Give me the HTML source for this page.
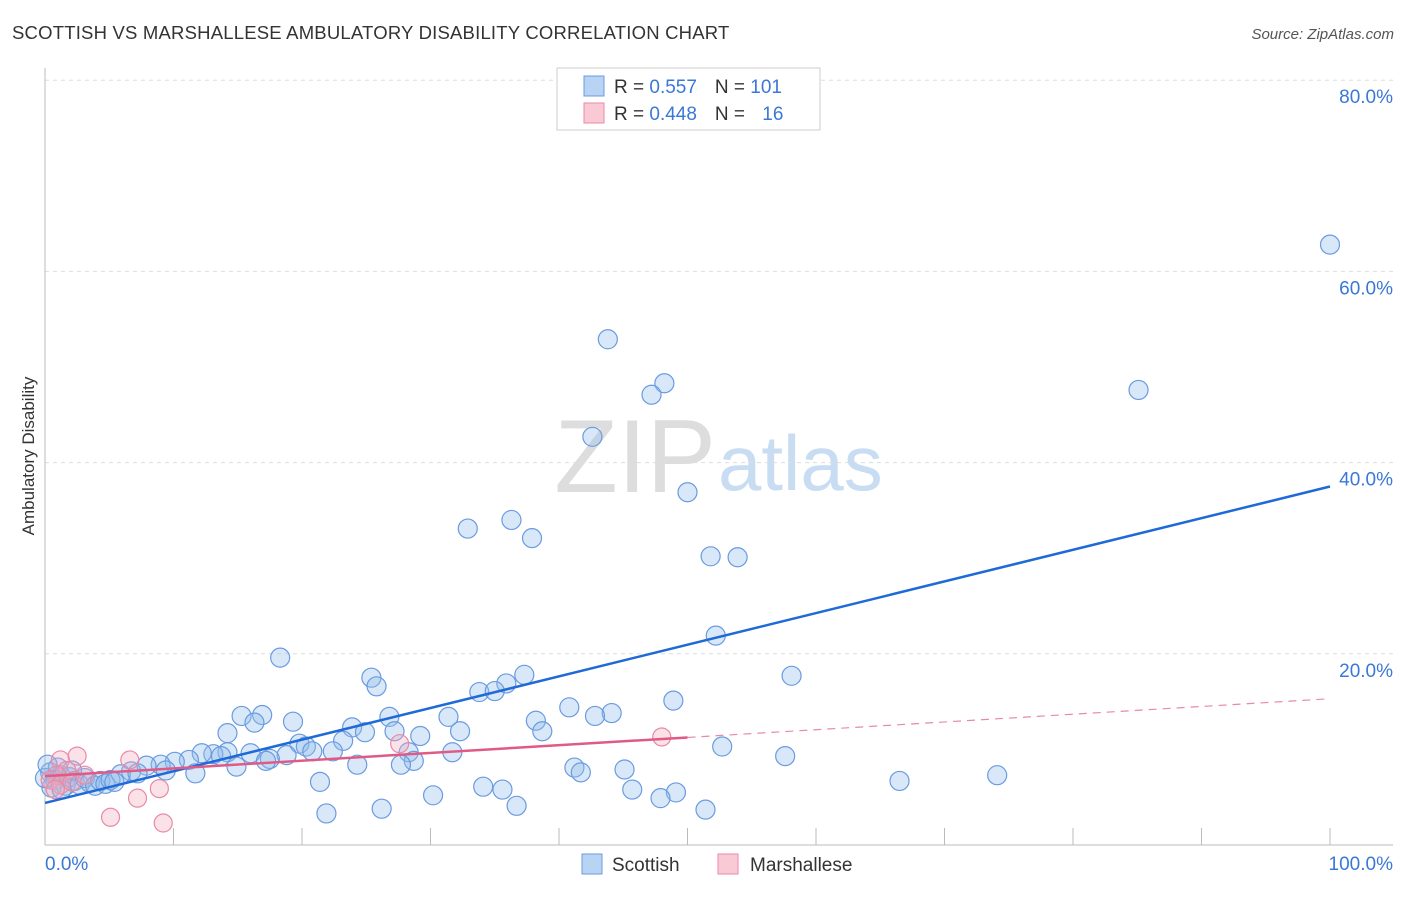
<!DOCTYPE html>
<html><head><meta charset="utf-8"><style>
body{margin:0;background:#fff;font-family:"Liberation Sans",sans-serif;}
svg text{font-family:"Liberation Sans",sans-serif;}
</style></head><body>
<svg id="c" width="1406" height="892" xmlns="http://www.w3.org/2000/svg">
<text x="12" y="39" font-size="18.5" fill="#333" letter-spacing="0.2">SCOTTISH VS MARSHALLESE AMBULATORY DISABILITY CORRELATION CHART</text>
<text x="1394" y="39" font-size="15" fill="#555" font-style="italic" text-anchor="end">Source: ZipAtlas.com</text>
<text x="716" y="492" font-size="104" fill="#ddd" text-anchor="end" font-family="Liberation Serif">ZIP</text>
<text x="718" y="490" font-size="78" fill="#c8dcf2">atlas</text>
<text transform="translate(34,456) rotate(-90)" font-size="17" fill="#333" text-anchor="middle">Ambulatory Disability</text>
<g id="grid"></g><g id="pts"></g><g id="lines"></g>
<g>
<rect x="557" y="68" width="263" height="62" fill="#fff" stroke="#ccc"/>
<rect x="584" y="76" width="20" height="20" fill="#b8d3f4" stroke="#6a9be0"/>
<rect x="584" y="103" width="20" height="20" fill="#fac9d6" stroke="#e88aa6"/>
<text x="614" y="93" font-size="19" fill="#333">R = <tspan fill="#3a78d6">0.557</tspan><tspan dx="18">N = </tspan><tspan fill="#3a78d6">101</tspan></text>
<text x="614" y="120" font-size="19" fill="#333">R = <tspan fill="#3a78d6">0.448</tspan><tspan dx="18">N = </tspan><tspan fill="#3a78d6" dx="12">16</tspan></text>
</g>
<g>
<rect x="582" y="854" width="20" height="20" fill="#b8d3f4" stroke="#6a9be0"/>
<text x="612" y="871" font-size="19" fill="#333">Scottish</text>
<rect x="718" y="854" width="20" height="20" fill="#fac9d6" stroke="#e88aa6"/>
<text x="750" y="871" font-size="19" fill="#333">Marshallese</text>
</g>
</svg>
<script>
const yTicks=[20,40,60,80];
const xTickLabels=["0.0%","100.0%"];
const blueX=[100,85.1,43.8,48.2,47.2,42.6,50.0,32.9,36.3,37.9,51.8,53.9,52.2,18.3,58.1,25.4,25.8,37.3,35.9,33.8,35.0,48.9,40.8,44.1,42.8,16.9,15.3,16.3,19.3,26.8,31.4,38.2,38.7,23.9,24.9,14.2,29.2,32.3,27.2,23.2,19.8,20.3,22.4,20.8,52.7,57.6,31.7,28.3,28.7,27.7,24.3,18.8,17.5,16.0,14.2,13.1,12.2,13.7,14.9,17.2,11.2,10.1,9.0,7.9,11.7,9.4,6.7,5.9,7.2,41.2,41.7,45.1,74.1,66.5,21.4,34.1,35.6,45.7,49.1,47.9,30.2,36.7,26.2,21.9,51.4,0.4,0.8,1.2,1.6,1.9,2.3,2.7,3.1,3.5,3.9,4.3,4.7,5.1,5.4,0.5,1.0,1.3,2.1,0,0.2];
const blueY=[62.8,47.6,52.9,48.3,47.1,42.7,36.9,33.1,34.0,32.1,30.2,30.1,21.9,19.6,17.7,17.5,16.6,17.8,16.9,16.0,16.1,15.1,14.4,13.8,13.5,13.6,13.5,12.8,12.9,13.4,13.4,13.0,11.9,12.3,11.8,11.7,11.4,11.9,11.9,10.9,10.6,10.3,9.8,9.8,10.3,9.3,9.7,9.7,8.8,8.4,8.4,9.4,9.0,9.6,9.7,9.5,9.6,9.3,8.2,8.8,8.9,8.7,8.4,8.3,7.5,7.8,7.7,7.4,7.5,8.1,7.6,7.9,7.3,6.7,6.6,6.1,5.8,5.8,5.5,4.9,5.2,4.1,3.8,3.3,3.7,7.6,6.8,7.3,6.2,7.1,6.7,6.3,7.0,6.5,6.2,6.7,6.4,6.8,6.6,6.0,8.1,5.8,7.8,7.0,8.4];
const pinkX=[1.2,2.5,1.7,0.9,0.4,6.6,27.6,48.0,7.2,8.9,5.1,9.2,1.2,2.1,0.8,3.1];
const pinkY=[8.9,9.3,7.8,7.3,6.8,8.9,10.6,11.3,4.9,5.9,2.9,2.3,6.3,6.6,5.8,7.3];
const blueTrend=[4.4,37.5];
const pinkTrend=[7.2,15.3];
const pinkSolidEnd=50;
const NS="http://www.w3.org/2000/svg";
const X=v=>45+v*12.85, Y=v=>845-v*9.56;
function mk(p,t,a){const e=document.createElementNS(NS,t);for(const k in a)e.setAttribute(k,a[k]);p.appendChild(e);return e;}
const g=document.getElementById('grid');
yTicks.forEach(t=>{
 const l=mk(g,'line',{x1:45,x2:1393,y1:Y(t),y2:Y(t),stroke:'#ddd','stroke-dasharray':'4,4'});
 
 
 const tx=mk(g,'text',{x:1393,y:Y(t)+23,'font-size':19,fill:'#3a78d6','text-anchor':'end'});
 tx.textContent=t.toFixed(1)+'%';
 
 
});
mk(g,'line',{x1:45,x2:45,y1:68,y2:845,stroke:'#bbb'});
mk(g,'line',{x1:45,x2:1393,y1:845,y2:845,stroke:'#bbb'});
for(let i=1;i<=10;i++){const tk=mk(g,'line',{x1:X(i*10),x2:X(i*10),y1:828,y2:845,stroke:'#bbb'});}
const t0=mk(g,'text',{x:45,y:870,'font-size':19,fill:'#3a78d6'});t0.textContent=xTickLabels[0];


const t1=mk(g,'text',{x:1393,y:870,'font-size':19,fill:'#3a78d6','text-anchor':'end'});t1.textContent=xTickLabels[1];


const P=document.getElementById('pts');
blueX.forEach((x,i)=>{const c=mk(P,'circle',{cx:X(x),cy:Y(blueY[i]),r:9.5,fill:'rgba(147,188,236,0.35)',stroke:'#6a9be0','stroke-width':1.2});
 
 });
pinkX.forEach((x,i)=>{const c=mk(P,'circle',{cx:X(x),cy:Y(pinkY[i]),r:9,fill:'rgba(244,170,190,0.35)',stroke:'#e88aa6','stroke-width':1.2});
 
 });
const L=document.getElementById('lines');
const bl=mk(L,'line',{x1:X(0),y1:Y(blueTrend[0]),x2:X(100),y2:Y(blueTrend[1]),stroke:'#1f6ad6','stroke-width':2.5});


const pm=pinkTrend[0]+(pinkTrend[1]-pinkTrend[0])*pinkSolidEnd/100;
const pl=mk(L,'line',{x1:X(0),y1:Y(pinkTrend[0]),x2:X(pinkSolidEnd),y2:Y(pm),stroke:'#e05a86','stroke-width':2.5});


const pd=mk(L,'line',{x1:X(pinkSolidEnd),y1:Y(pm),x2:X(100),y2:Y(pinkTrend[1]),stroke:'#e88aa6','stroke-width':1.2,'stroke-dasharray':'8,6'});


</script>
</body></html>
